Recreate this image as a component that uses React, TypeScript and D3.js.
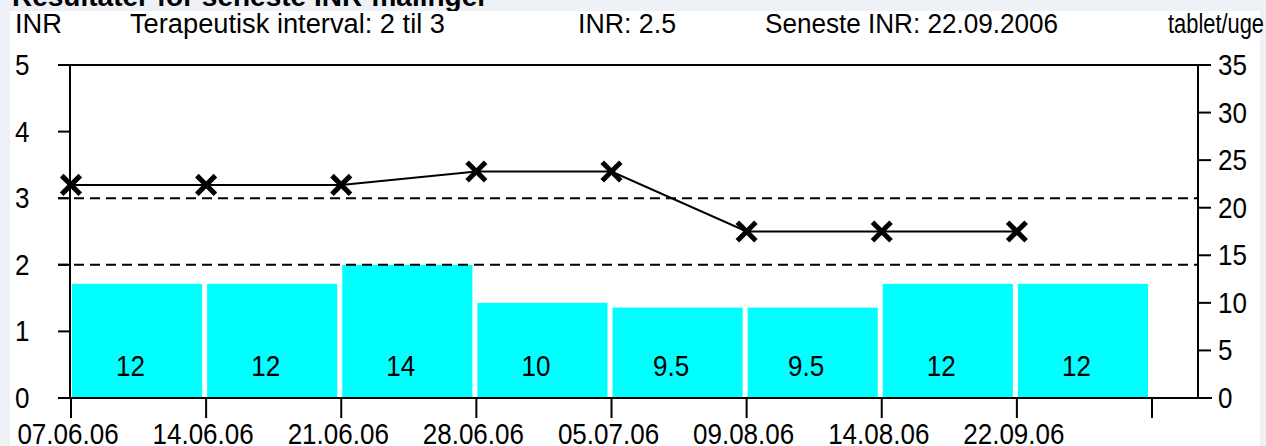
import React from 'react';
import * as d3 from 'd3';

// Data
const dates = ['07.06.06', '14.06.06', '21.06.06', '28.06.06', '05.07.06', '09.08.06', '14.08.06', '22.09.06'];
const inrValues = [3.2, 3.2, 3.2, 3.4, 3.4, 2.5, 2.5, 2.5];
const tabletsPerWeek = [12, 12, 14, 10, 9.5, 9.5, 12, 12];
const inrTicks = [0, 1, 2, 3, 4, 5];
const tabletTicks = [0, 5, 10, 15, 20, 25, 30, 35];
const therapeuticLimits = [2, 3];

const W = 1266;
const H = 446;
const left = 70;
const right = 1198;
const top = 65;
const bottom = 398;

const font = '"Liberation Sans", Arial, sans-serif';

// header texts: [text, x, width]
const header: [string, number, number][] = [
  ['INR', 15, 47],
  ['Terapeutisk interval: 2 til 3', 130, 315],
  ['INR: 2.5', 578, 98],
  ['Seneste INR: 22.09.2006', 765, 293],
  ['tablet/uge', 1168, 96],
];

// stretched text like the old bitmap font
const Label = ({ x, y, anchor = 'start', children }: { x: number; y: number; anchor?: string; children: React.ReactNode }) => (
  <text transform={`translate(${x},${y}) scale(1,1.13)`} textAnchor={anchor}>
    {children}
  </text>
);

export default function App() {
  const x = d3.scaleBand<string>().domain(dates).range([71, 1152]).paddingInner(0);
  const yInr = d3.scaleLinear().domain([0, 5]).range([bottom, top]);
  const yTab = d3.scaleLinear().domain([0, 35]).range([bottom, top]);
  const step = x.step();

  const points: [number, number][] = inrValues.map((v, i) => [x(dates[i])!, yInr(v)]);
  const line = d3.line();

  const xTicks = [...dates.map(d => x(d)!), x.range()[1]];

  return (
    <svg width={W} height={H} style={{ position: 'absolute', left: 0, top: 0, display: 'block' }}>
      <rect x={0} y={0} width={W} height={H} fill="#eef2f6" />
      <text x={12} y={6} fontFamily={font} fontWeight="bold" fontSize={28} fill="#000">
        Resultater for seneste INR-målinger
      </text>
      <rect x={10} y={11} width={1250} height={H - 11} fill="#fff" />

      {/* header */}
      <g fontFamily={font} fontSize={25} fill="#000">
        {header.map(([t, hx, w]) => (
          <text
            key={t}
            transform={`translate(${hx},33) scale(1,1.08)`}
            textLength={w}
            lengthAdjust="spacingAndGlyphs"
          >
            {t}
          </text>
        ))}
      </g>

      {/* bars */}
      {tabletsPerWeek.map((v, i) => (
        <rect
          key={'b' + i}
          x={x(dates[i])! + 1}
          y={yTab(v)}
          width={step - 5}
          height={bottom - yTab(v)}
          fill="#00ffff"
        />
      ))}
      <g fontFamily={font} fontSize={26} fill="#000">
        {tabletsPerWeek.map((v, i) => (
          <Label key={'bl' + i} x={x(dates[i])! + step / 2 - 8} y={376} anchor="middle">
            {String(v)}
          </Label>
        ))}
      </g>

      {/* therapeutic range */}
      {therapeuticLimits.map(v => (
        <line
          key={'t' + v}
          x1={58}
          x2={right}
          y1={yInr(v)}
          y2={yInr(v)}
          stroke="#000"
          strokeWidth={2}
          strokeDasharray="10,6"
        />
      ))}

      {/* frame and axes */}
      <g stroke="#000" strokeWidth={2}>
        <line x1={left} x2={right} y1={top} y2={top} />
        <line x1={left} x2={left} y1={top} y2={bottom} />
        <line x1={right} x2={right} y1={top} y2={bottom} />
        <line x1={58} x2={1212} y1={bottom} y2={bottom} />
        {inrTicks.map(t => (
          <line key={'li' + t} x1={58} x2={left} y1={yInr(t)} y2={yInr(t)} />
        ))}
        {tabletTicks.map(t => (
          <line key={'ri' + t} x1={right} x2={1211} y1={yTab(t)} y2={yTab(t)} />
        ))}
        {xTicks.map((t, i) => (
          <line key={'xi' + i} x1={t} x2={t} y1={bottom} y2={418} />
        ))}
      </g>

      <g fontFamily={font} fontSize={26} fill="#000">
        {inrTicks.map(t => (
          <Label key={'lt' + t} x={15} y={yInr(t) + 10}>{t}</Label>
        ))}
        {tabletTicks.map(t => (
          <Label key={'rt' + t} x={1218} y={yTab(t) + 10}>{t}</Label>
        ))}
        {dates.map(d => (
          <Label key={'xt' + d} x={x(d)! - 3} y={444} anchor="middle">{d}</Label>
        ))}
      </g>

      {/* INR line */}
      <path d={line(points)!} fill="none" stroke="#000" strokeWidth={2} />
      <g stroke="#000" strokeWidth={5} strokeLinecap="square">
        {points.map(([px, py], i) => (
          <g key={'m' + i}>
            <line x1={px - 7.5} y1={py - 7.5} x2={px + 7.5} y2={py + 7.5} />
            <line x1={px - 7.5} y1={py + 7.5} x2={px + 7.5} y2={py - 7.5} />
          </g>
        ))}
      </g>
    </svg>
  );
}
